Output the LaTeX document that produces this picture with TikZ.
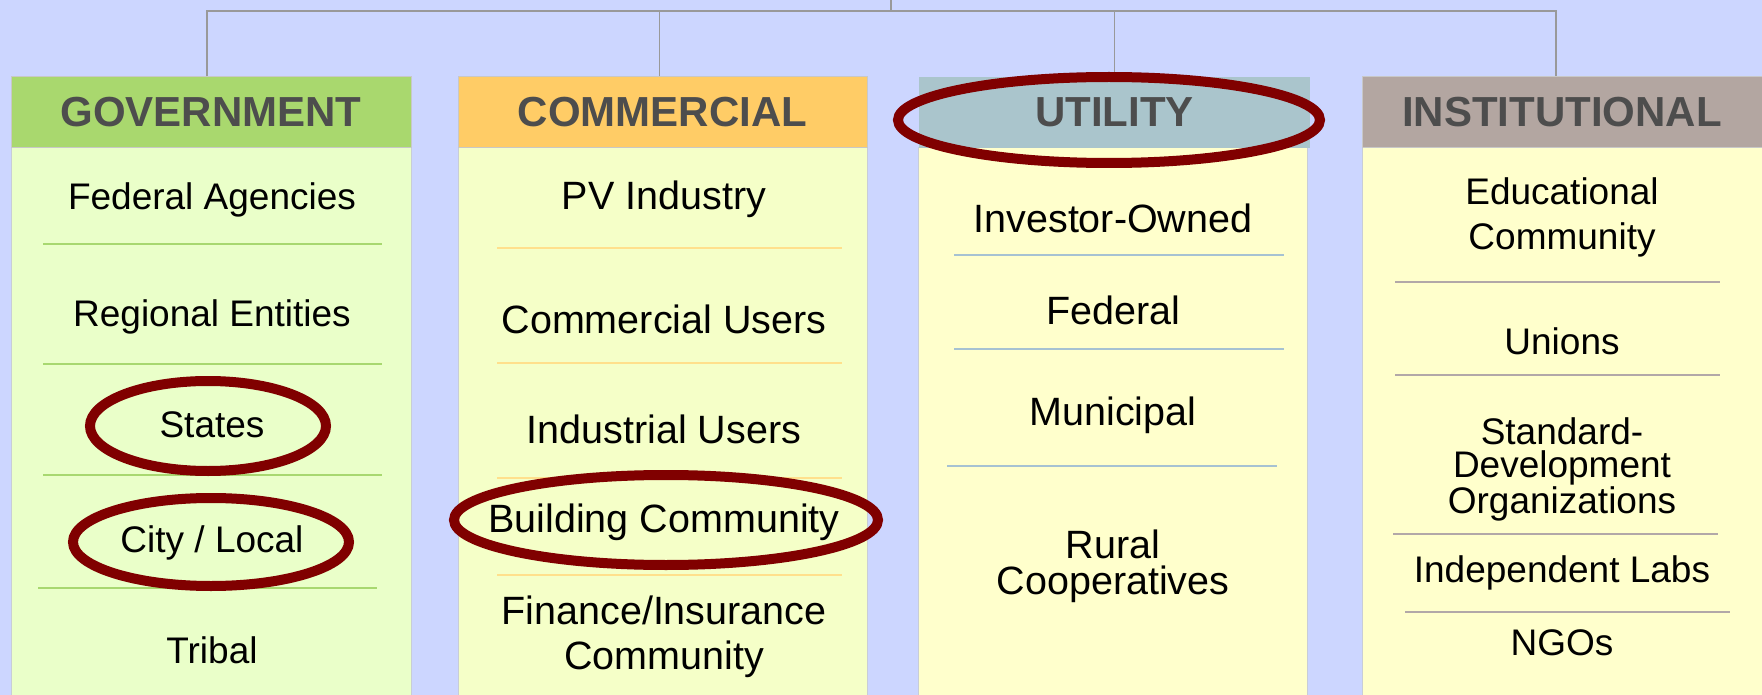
\documentclass[tikz,border=0pt]{standalone}
\usepackage{fontspec}
\setmainfont{Liberation Sans}
\definecolor{bgblue}{RGB}{204,214,255}
\definecolor{linkgray}{RGB}{153,153,153}
\definecolor{hdrtext}{RGB}{77,77,77}
\definecolor{hdrline}{RGB}{200,200,200}
\definecolor{bodyline}{RGB}{200,205,215}
\definecolor{govhdr}{RGB}{169,216,110}
\definecolor{govbody}{RGB}{234,255,201}
\definecolor{govsep}{RGB}{168,216,112}
\definecolor{comhdr}{RGB}{255,204,102}
\definecolor{combody}{RGB}{245,255,200}
\definecolor{comsep}{RGB}{255,224,140}
\definecolor{utilhdr}{RGB}{170,197,204}
\definecolor{utilbody}{RGB}{255,255,204}
\definecolor{utilsep}{RGB}{166,194,210}
\definecolor{insthdr}{RGB}{179,166,161}
\definecolor{instbody}{RGB}{255,255,204}
\definecolor{instsep}{RGB}{178,168,168}
\definecolor{ringred}{RGB}{128,0,0}
\begin{document}
\begin{tikzpicture}[x=1pt,y=-1pt,
  hdr/.style={draw=hdrline, line width=1pt, inner sep=0pt, minimum height=71pt,
    text=hdrtext, font=\fontsize{42}{48}\selectfont\bfseries},
  bodybox/.style={draw=bodyline, line width=1pt, inner sep=0pt, anchor=north, minimum height=560pt},
  item/.style={anchor=base, inner sep=0pt, align=center, font=\fontsize{37}{45}\selectfont},
  itembig/.style={item, font=\fontsize{39.5}{45}\selectfont},
  link/.style={draw=linkgray, line width=1.8pt},
  sepline/.style={line width=1.5pt},
  ring/.style={draw=ringred, line width=10pt}]

% canvas
\useasboundingbox (0,0) rectangle (1762,695);
\clip (0,0) rectangle (1762,695);
\fill[bgblue] (0,0) rectangle (1762,695);

% column bodies
\node[bodybox, fill=govbody,  minimum width=400pt] (govbody)  at (211,147) {};
\node[bodybox, fill=combody,  minimum width=409pt] (combody)  at (662.5,147) {};
\node[bodybox, fill=utilbody, minimum width=389pt] (utilbody) at (1113,147) {};
\node[bodybox, fill=instbody, minimum width=400pt] (instbody) at (1562,147) {};

% column headers
\node[hdr, fill=govhdr,  minimum width=400pt] (gov)  at (211,112.5)  {GOVERNMENT};
\node[hdr, fill=comhdr,  minimum width=409pt] (comm) at (662.5,112.5) {COMMERCIAL};
\node[hdr, draw=none, fill=utilhdr, minimum width=391pt] (util) at (1114.5,112.5) {UTILITY};
\node[hdr, fill=insthdr, minimum width=400pt] (inst) at (1562,112.5) {INSTITUTIONAL};

% tree connectors
\coordinate (root) at (891,0);
\coordinate (hub) at (891,11);
\draw[link] (root) -- (hub);
\draw[link] ([xshift=-4pt]gov.north) |- (hub) -| ([xshift=-6pt]inst.north);
\draw[link] ([xshift=-3pt]comm.north) -- ([xshift=-3pt]comm.north |- hub);
\draw[link] (util.north) -- (util.north |- hub);

% government items (anchored at the baseline of the last line)
\node[item] (fedag)  at (212,210) {Federal Agencies};
\node[item] (region) at (212,326) {Regional Entities};
\node[item] (states) at (212,437) {States};
\node[item] (city)   at (212,552) {City / Local};
\node[item] (tribal) at (212,663) {Tribal};
\draw[sepline, govsep] (43,244) -- (382,244);
\draw[sepline, govsep] (43,364) -- (382,364);
\draw[sepline, govsep] (43,475) -- (382,475);
\draw[sepline, govsep] (38,588) -- (377,588);

% commercial items
\node[itembig] (pv)      at (664,210) {PV Industry};
\node[itembig] (comuse)  at (664,333) {Commercial Users};
\node[itembig] (induse)  at (664,443) {Industrial Users};
\node[itembig] (build)   at (664,532) {Building Community};
\node[itembig] (finance) at (664,669) {Finance/Insurance\\Community};
\draw[sepline, comsep] (497,248) -- (842,248);
\draw[sepline, comsep] (497,363) -- (842,363);
\draw[sepline, comsep] (497,478) -- (842,478);
\draw[sepline, comsep] (497,575) -- (842,575);

% utility items
\node[itembig] (investor)  at (1113,233) {Investor-Owned};
\node[itembig] (federal)   at (1113,324) {Federal};
\node[itembig] (municipal) at (1113,425) {Municipal};
\node[itembig, font=\fontsize{39.5}{36}\selectfont] (rural) at (1113,594) {Rural\\Cooperatives};
\draw[sepline, utilsep] (954,255) -- (1284,255);
\draw[sepline, utilsep] (954,349) -- (1284,349);
\draw[sepline, utilsep] (947,466) -- (1277,466);

% institutional items
\node[item] (educ)   at (1562,250) {Educational\\Community};
\node[item] (unions) at (1562,354) {Unions};
\node[item, font=\fontsize{37}{33.5}\selectfont] (sdo) at (1562,513) {Standard-\\Development\\Organizations};
\node[item] (labs)   at (1562,582) {Independent Labs};
\node[item] (ngos)   at (1562,655) {NGOs};
\draw[sepline, instsep] (1395,282) -- (1720,282);
\draw[sepline, instsep] (1395,375) -- (1720,375);
\draw[sepline, instsep] (1393,534) -- (1718,534);
\draw[sepline, instsep] (1405,612) -- (1730,612);

% highlight rings
\draw[ring] (1109,120) ellipse [x radius=211pt, y radius=43pt];
\draw[ring] (208,426) ellipse [x radius=118pt, y radius=45pt];
\draw[ring] (211,542) ellipse [x radius=138pt, y radius=44pt];
\draw[ring] (666,520) ellipse [x radius=212pt, y radius=45pt];
\end{tikzpicture}
\end{document}
